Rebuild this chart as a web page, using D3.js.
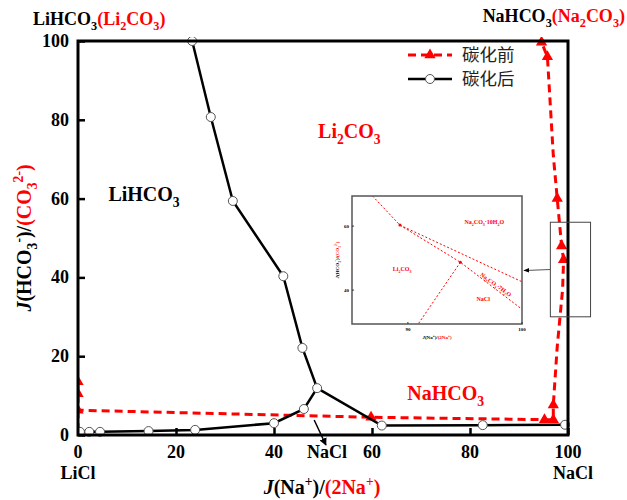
<!DOCTYPE html>
<html>
<head>
<meta charset="utf-8">
<script src="https://cdn.jsdelivr.net/npm/d3@7"></script>
<style>
  body { margin: 0; background: #fff; }
  text { font-family: "Liberation Serif", "Times New Roman", serif; font-weight: bold; }
</style>
</head>
<body>
<div id="chart"></div>
<script>
// 碳化后 (after carbonation) - black lines, open circles
const afterUpperX = [23.3, 27.1, 31.6, 41.9, 45.8, 48.8];
const afterUpperY = [100, 80.7, 59.4, 40.3, 22.1, 11.9];
const afterLowerX = [0.4, 2.3, 4.5, 14.4, 23.9, 40, 46.1, 48.8];
const afterLowerY = [0.8, 0.8, 0.8, 1.0, 1.3, 3.0, 6.6, 11.9];
const afterRightX = [48.8, 62, 82.6, 99.4];
const afterRightY = [11.9, 2.4, 2.5, 2.6];

// 碳化前 (before carbonation) - red dashed, triangles
const beforeX = [0, 0, 0, 59.8, 95.2, 97, 97, 97.8, 98.9, 99.1, 98.7, 97.8, 97, 95.8, 94.6];
const beforeY = [13.5, 10.5, 6.3, 4.5, 3.9, 3.9, 7.6, 22.4, 37, 44.5, 48, 60, 71, 96, 99.7];
const beforeMarked = [0, 1, 2, 3, 4, 5, 6, 9, 10, 11, 13, 14];
const beforeStubX = [0, 0];
const beforeStubY = [6.3, 0.3];

const xTicks = [0, 20, 40, 60, 80, 100];
const yTicks = [0, 20, 40, 60, 80, 100];

// inset (zoom of the Na side)
const insetXDomain = [85.1, 100];
const insetYDomain = [29.4, 69.4];
const insetAX = [86.9, 89.3, 100], insetAY = [69.4, 60.3, 42.6];
const insetBX = [89.3, 94.6, 100], insetBY = [60.3, 48.7, 34];
const insetCX = [94.6, 90.9], insetCY = [48.7, 29.4];
const insetPtX = [89.3, 94.6], insetPtY = [60.3, 48.7];
const insetXTicks = [90, 100];
const insetYTicks = [40, 60];

const RED = "#ff0000";
const width = 627, height = 500;
const margin = { top: 41, left: 78, bottom: 65, right: 59 };
const iwidth = width - margin.left - margin.right;
const iheight = height - margin.top - margin.bottom;

const svg = d3.select("#chart").append("svg").attr("width", width).attr("height", height);
const defs = svg.append("defs");

// text helper with sub/superscripts
function rich(sel, parts, size) {
  let shift = 0;
  parts.forEach(p => {
    const [txt, col, pos, ital] = p;
    const target = pos === "sub" ? size * 0.3 : pos === "sup" ? -size * 0.4 : 0;
    const t = sel.append("tspan")
      .attr("dy", target - shift)
      .attr("fill", col)
      .attr("font-size", pos ? size * 0.68 : size)
      .text(txt);
    if (ital) t.attr("font-style", "italic");
    shift = target;
  });
  return sel;
}

const x = d3.scaleLinear().domain([0, 100]).range([0, iwidth]);
const y = d3.scaleLinear().domain([0, 100]).range([iheight, 0]);

const g = svg.append("g").attr("transform", `translate(${margin.left},${margin.top})`);

defs.append("clipPath").attr("id", "plotclip")
  .append("rect").attr("x", 0).attr("y", -4).attr("width", iwidth + 4).attr("height", iheight + 8);

// axes with inward ticks
const xAxis = g.append("g").attr("transform", `translate(0,${iheight})`)
  .call(d3.axisBottom(x).tickValues(xTicks).tickSize(-7).tickFormat(""));
const yAxis = g.append("g")
  .call(d3.axisLeft(y).tickValues(yTicks).tickSize(-7).tickFormat(""));
[xAxis, yAxis].forEach(a => {
  a.select(".domain").remove();
  a.selectAll(".tick line").attr("stroke", "#000").attr("stroke-width", 2.5);
});

// tick labels
g.selectAll(".xlab").data(xTicks).enter().append("text")
  .attr("x", d => x(d)).attr("y", iheight + 23)
  .attr("text-anchor", "middle").attr("font-size", 18).text(d => d);
g.selectAll(".ylab").data(yTicks).enter().append("text")
  .attr("x", -9).attr("y", d => y(d) + 6)
  .attr("text-anchor", "end").attr("font-size", 18).text(d => d);

g.append("text").attr("x", x(0)).attr("y", iheight + 44).attr("text-anchor", "middle").attr("font-size", 18).text("LiCl");
g.append("text").attr("x", x(100) + 5).attr("y", iheight + 44).attr("text-anchor", "middle").attr("font-size", 18).text("NaCl");
g.append("text").attr("x", x(50.8)).attr("y", iheight + 23).attr("text-anchor", "middle").attr("font-size", 18).text("NaCl");

// pointer to the NaCl field
defs.append("marker").attr("id", "arrowblk")
  .attr("viewBox", "0 0 10 10").attr("refX", 9).attr("refY", 5)
  .attr("markerWidth", 5).attr("markerHeight", 5).attr("orient", "auto")
  .append("path").attr("d", "M0,0L10,5L0,10z").attr("fill", "#000");
g.append("line")
  .attr("x1", x(48.2)).attr("y1", y(3.8))
  .attr("x2", x(50.6)).attr("y2", iheight + 10)
  .attr("stroke", "#000").attr("stroke-width", 1.5).attr("marker-end", "url(#arrowblk)");

const line = d3.line().x(d => x(d[0])).y(d => y(d[1]));
const zip = (a, b) => a.map((v, i) => [v, b[i]]);

const plot = g.append("g").attr("clip-path", "url(#plotclip)");

// red dashed series
plot.append("path").datum(zip(beforeStubX, beforeStubY)).attr("d", line)
  .attr("fill", "none").attr("stroke", RED).attr("stroke-width", 3).attr("stroke-dasharray", "8,5");
plot.append("path").datum(zip(beforeX, beforeY)).attr("d", line)
  .attr("fill", "none").attr("stroke", RED).attr("stroke-width", 3).attr("stroke-dasharray", "8,5");
const tri = d3.symbol().type(d3.symbolTriangle).size(55);
plot.selectAll(".tri").data(beforeMarked.map(i => [beforeX[i], beforeY[i]])).enter().append("path")
  .attr("d", tri).attr("transform", d => `translate(${x(d[0])},${y(d[1])})`).attr("fill", RED);

// black series
[[afterUpperX, afterUpperY], [afterLowerX, afterLowerY], [afterRightX, afterRightY]].forEach(([xs, ys]) => {
  plot.append("path").datum(zip(xs, ys)).attr("d", line)
    .attr("fill", "none").attr("stroke", "#000").attr("stroke-width", 2.5);
});
const circPts = zip(afterUpperX, afterUpperY).concat(zip(afterLowerX, afterLowerY).slice(0, -1), zip(afterRightX, afterRightY).slice(1));
plot.selectAll(".circ").data(circPts).enter().append("circle")
  .attr("cx", d => x(d[0])).attr("cy", d => y(d[1])).attr("r", 4.5)
  .attr("fill", "#fff").attr("stroke", "#555").attr("stroke-width", 1);

// frame
g.append("rect").attr("width", iwidth).attr("height", iheight)
  .attr("fill", "none").attr("stroke", "#000").attr("stroke-width", 3);

// region labels
rich(g.append("text").attr("x", x(6.2)).attr("y", y(59.3)), [["LiHCO", "#000"], ["3", "#000", "sub"]], 20);
rich(g.append("text").attr("x", x(49)).attr("y", y(75.3)), [["Li", RED], ["2", RED, "sub"], ["CO", RED], ["3", RED, "sub"]], 20);
rich(g.append("text").attr("x", x(67.2)).attr("y", y(8.8)), [["NaHCO", RED], ["3", RED, "sub"]], 20);

// corner labels
rich(svg.append("text").attr("x", 33).attr("y", 25),
  [["LiHCO", "#000"], ["3", "#000", "sub"], ["(Li", RED], ["2", RED, "sub"], ["CO", RED], ["3", RED, "sub"], [")", RED]], 18);
rich(svg.append("text").attr("x", 625).attr("y", 22).attr("text-anchor", "end"),
  [["NaHCO", "#000"], ["3", "#000", "sub"], ["(Na", RED], ["2", RED, "sub"], ["CO", RED], ["3", RED, "sub"], [")", RED]], 18);

// axis titles
rich(svg.append("text").attr("x", 322).attr("y", 494).attr("text-anchor", "middle"),
  [["J", "#000", null, true], ["(Na", "#000"], ["+", "#000", "sup"], [")/", "#000"], ["(2Na", RED], ["+", RED, "sup"], [")", RED]], 20);
rich(svg.append("text").attr("transform", "translate(31,238) rotate(-90)").attr("text-anchor", "middle"),
  [["J", "#000", null, true], ["(HCO", "#000"], ["3", "#000", "sub"], ["-", "#000", "sup"], [")/", "#000"], ["(CO", RED], ["3", RED, "sub"], ["2-", RED, "sup"], [")", RED]], 20);

// legend
const leg = svg.append("g");
leg.append("line").attr("x1", 408).attr("x2", 452).attr("y1", 55).attr("y2", 55)
  .attr("stroke", RED).attr("stroke-width", 3).attr("stroke-dasharray", "8,5");
leg.append("path").attr("d", tri).attr("transform", "translate(430,55)").attr("fill", RED);
leg.append("line").attr("x1", 408).attr("x2", 452).attr("y1", 79).attr("y2", 79)
  .attr("stroke", "#000").attr("stroke-width", 2.5);
leg.append("circle").attr("cx", 430).attr("cy", 79).attr("r", 4.5).attr("fill", "#fff").attr("stroke", "#555");
leg.selectAll(".lt").data(["碳化前", "碳化后"]).enter().append("text")
  .attr("x", 462).attr("y", (d, i) => 61 + i * 24)
  .style("font-family", "'Noto Sans CJK SC', sans-serif").style("font-weight", 400)
  .attr("font-size", 17.5).attr("fill", "#222").text(d => d);

// zoom box on main plot and arrow to inset
const zx0 = x(96.4), zy0 = y(54.0), zx1 = x(104.6), zy1 = y(30.0);
svg.append("rect").attr("x", margin.left + zx0).attr("y", margin.top + zy0)
  .attr("width", zx1 - zx0).attr("height", zy1 - zy0)
  .attr("fill", "none").attr("stroke", "#444").attr("stroke-width", 1);

// inset
const ins = { left: 352, top: 196, w: 170, h: 128 };
const ix = d3.scaleLinear().domain(insetXDomain).range([0, ins.w]);
const iy = d3.scaleLinear().domain(insetYDomain).range([ins.h, 0]);
const ig = svg.append("g").attr("transform", `translate(${ins.left},${ins.top})`);
ig.append("rect").attr("width", ins.w).attr("height", ins.h).attr("fill", "#fff");
defs.append("clipPath").attr("id", "insclip")
  .append("rect").attr("width", ins.w).attr("height", ins.h);
const iline = d3.line().x(d => ix(d[0])).y(d => iy(d[1]));
const ip = ig.append("g").attr("clip-path", "url(#insclip)");
[[insetAX, insetAY], [insetBX, insetBY], [insetCX, insetCY]].forEach(([xs, ys]) => {
  ip.append("path").datum(zip(xs, ys)).attr("d", iline)
    .attr("fill", "none").attr("stroke", RED).attr("stroke-width", 1).attr("stroke-dasharray", "2,2");
});
ip.selectAll(".ipt").data(zip(insetPtX, insetPtY)).enter().append("circle")
  .attr("cx", d => ix(d[0])).attr("cy", d => iy(d[1])).attr("r", 1.5).attr("fill", RED);
ig.append("rect").attr("width", ins.w).attr("height", ins.h)
  .attr("fill", "none").attr("stroke", "#555").attr("stroke-width", 1.5);
ig.selectAll(".ixt").data(insetXTicks).enter().append("line")
  .attr("x1", d => ix(d)).attr("x2", d => ix(d)).attr("y1", ins.h).attr("y2", ins.h - 2).attr("stroke", "#333");
ig.selectAll(".iyt").data(insetYTicks).enter().append("line")
  .attr("y1", d => iy(d)).attr("y2", d => iy(d)).attr("x1", 0).attr("x2", 2).attr("stroke", "#333");
ig.selectAll(".ixl").data(insetXTicks).enter().append("text")
  .attr("x", d => ix(d)).attr("y", ins.h + 7).attr("text-anchor", "middle").attr("font-size", 5).text(d => d);
ig.selectAll(".iyl").data(insetYTicks).enter().append("text")
  .attr("x", -3).attr("y", d => iy(d) + 2).attr("text-anchor", "end").attr("font-size", 5).text(d => d);
rich(ig.append("text").attr("x", 85).attr("y", ins.h + 15).attr("text-anchor", "middle"),
  [["J", "#000", null, true], ["(Na", "#000"], ["+", "#000", "sup"], [")/", "#000"], ["(2Na", RED], ["+", RED, "sup"], [")", RED]], 5);
rich(ig.append("text").attr("transform", `translate(-13,${ins.h / 2}) rotate(-90)`).attr("text-anchor", "middle"),
  [["J", "#000", null, true], ["(HCO", "#000"], ["3", "#000", "sub"], ["-", "#000", "sup"], [")/", "#000"], ["(CO", RED], ["3", RED, "sub"], ["2-", RED, "sup"], [")", RED]], 5);
rich(ig.append("text").attr("x", ix(96.7)).attr("y", iy(60.5)).attr("text-anchor", "middle"),
  [["Na", RED], ["2", RED, "sub"], ["CO", RED], ["3", RED, "sub"], ["·10H", RED], ["2", RED, "sub"], ["O", RED]], 6);
rich(ig.append("text").attr("x", ix(89.5)).attr("y", iy(46)).attr("text-anchor", "middle"),
  [["Li", RED], ["2", RED, "sub"], ["CO", RED], ["3", RED, "sub"]], 6);
rich(ig.append("text").attr("x", ix(96.6)).attr("y", iy(36.5)).attr("text-anchor", "middle"),
  [["NaCl", RED]], 6);
rich(ig.append("text").attr("transform", `translate(${ix(97.6)},${iy(41.2)}) rotate(36)`).attr("text-anchor", "middle"),
  [["Na", RED], ["2", RED, "sub"], ["CO", RED], ["3", RED, "sub"], ["·7H", RED], ["2", RED, "sub"], ["O", RED]], 6);

defs.append("marker").attr("id", "arrowgray")
  .attr("viewBox", "0 0 10 10").attr("refX", 9).attr("refY", 5)
  .attr("markerWidth", 6).attr("markerHeight", 6).attr("orient", "auto")
  .append("path").attr("d", "M0,1L10,5L0,9z").attr("fill", "#000");
svg.append("line")
  .attr("x1", margin.left + zx0).attr("y1", margin.top + (zy0 + zy1) / 2)
  .attr("x2", ins.left + ins.w + 2).attr("y2", margin.top + (zy0 + zy1) / 2 + 1)
  .attr("stroke", "#555").attr("stroke-width", 1).attr("marker-end", "url(#arrowgray)");
</script>
</body>
</html>
